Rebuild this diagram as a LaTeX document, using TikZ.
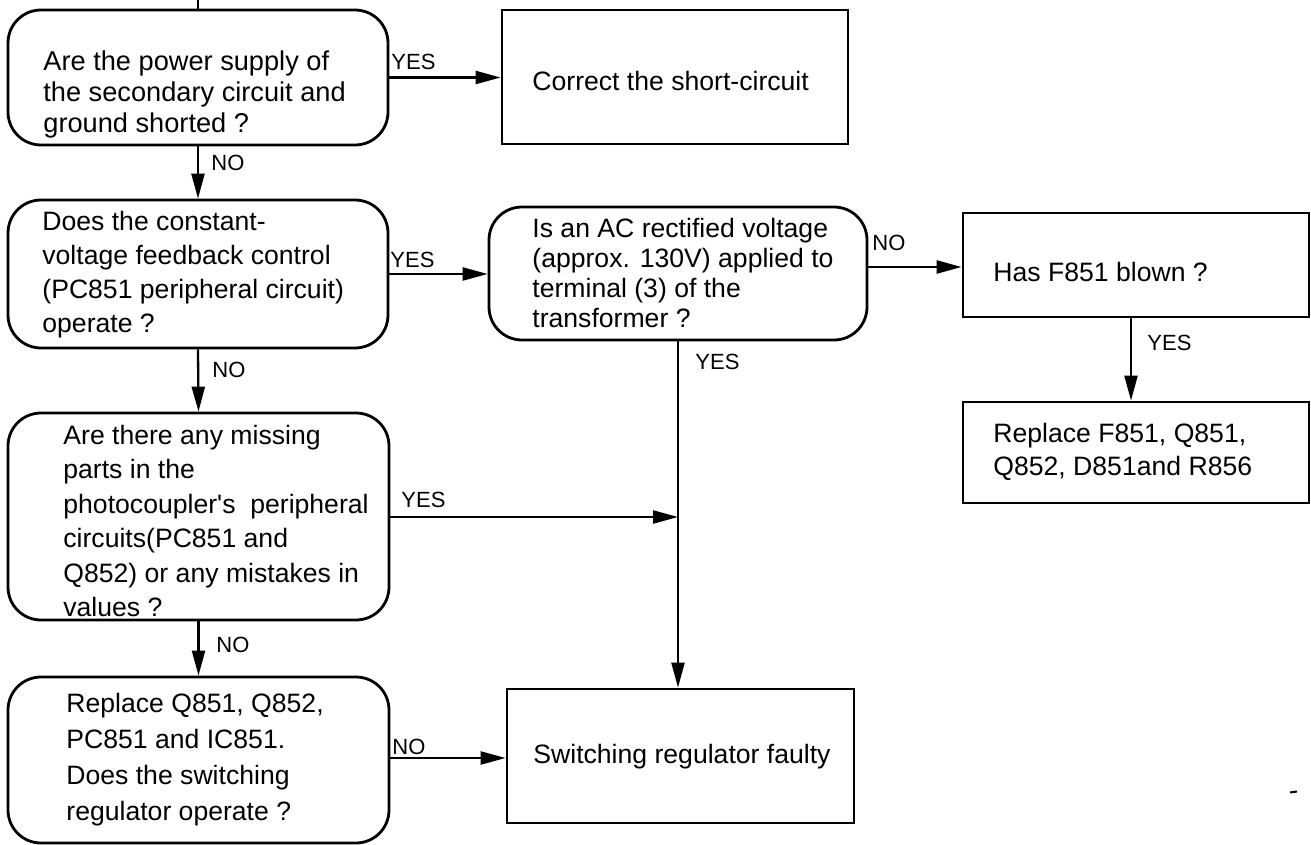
\documentclass[tikz,border=0pt]{standalone}
\usepackage{fontspec}
\setmainfont{Liberation Sans}
\usetikzlibrary{arrows.meta}
\begin{document}
\begin{tikzpicture}[x=0.5pt,y=-0.5pt,
  rbox/.style={draw, line width=1.4pt, rounded corners=16.5pt, inner sep=0pt},
  sbox/.style={draw, line width=1.4pt, inner sep=0pt},
  ln/.style={line width=1.15pt},
  arr/.style={line width=1.15pt, -{Triangle[length=12.5pt,width=6.5pt]}},
  lbl/.style={anchor=west, inner sep=0pt, font=\fontsize{11}{12}\selectfont},
  txt/.style={anchor=west, align=left, inner sep=0pt}]
\useasboundingbox (0,0) rectangle (1311,845);

% boxes
\node[rbox, minimum width=190pt, minimum height=67.5pt] (A) at (198,77.5) {};
\node[sbox, minimum width=173pt, minimum height=67pt] (B) at (675,77) {};
\node[rbox, minimum width=190pt, minimum height=74pt] (C) at (198,274) {};
\node[rbox, minimum width=189pt, minimum height=66.5pt] (D) at (678,273.5) {};
\node[sbox, minimum width=173pt, minimum height=52pt] (E) at (1136,265) {};
\node[sbox, minimum width=173pt, minimum height=50.5pt] (F) at (1136,452.5) {};
\node[rbox, minimum width=190.5pt, minimum height=103.5pt] (G) at (198.5,516.5) {};
\node[rbox, minimum width=190.5pt, minimum height=83pt] (H) at (198.5,760) {};
\node[sbox, minimum width=173.5pt, minimum height=67pt] (S) at (680.5,756) {};

% texts
\node[txt, font=\fontsize{13.6}{15.5}\selectfont] (tA) at (43,94) {Are the power supply of\\the secondary circuit and\\ground shorted ?};
\node[txt, font=\fontsize{13.3}{15.5}\selectfont] (tB) at (532,81) {Correct the short-circuit};
\node[txt, font=\fontsize{13.3}{17}\selectfont] (tC) at (42,275) {Does the constant-\\voltage feedback control\\(PC851 peripheral circuit)\\operate ?};
\node[txt, font=\fontsize{13.3}{15}\selectfont] (tD) at (532,273) {Is an AC rectified voltage\\(approx. 130V) applied to\\terminal (3) of the\\transformer ?};
\node[txt, font=\fontsize{13.3}{15}\selectfont] (tE) at (993,272) {Has F851 blown ?};
\node[txt, font=\fontsize{13.3}{16.5}\selectfont] (tF) at (993,452) {Replace F851, Q851,\\Q852, D851and R856};
\node[txt, font=\fontsize{13.3}{17.2}\selectfont] (tG) at (63,521) {Are there any missing\\parts in the\\photocoupler\textquotesingle s\ \ peripheral\\circuits(PC851 and\\Q852) or any mistakes in\\values ?};
\node[txt, font=\fontsize{13.3}{18}\selectfont] (tH) at (66,760) {Replace Q851, Q852,\\PC851 and IC851.\\Does the switching\\regulator operate ?};
\node[txt, font=\fontsize{13.3}{15}\selectfont] (tS) at (533,757) {Switching regulator faulty};

% connectors
\coordinate (top) at (198,0);
\draw[ln] (top) -- (A.north);
\draw[arr] (A.east) -- (A.east -| B.west);
\draw[arr] (A.south) -- (C.north);
\draw[arr] (C.east) -- (C.east -| D.west);
\draw[arr] (D.east |- 0,267) -- (E.west |- 0,267);
\draw[arr] (E.south -| 1131,0) -- (F.north -| 1131,0);
\coordinate (J) at (678,517);
\draw[arr] (D.south) -- (D.south |- S.north);
\draw[arr] (G.east |- J) -- (J);
\draw[arr] (C.south) -- (G.north);
\draw[arr] (G.south) -- (H.north);
\draw[arr] (H.east |- 0,758) -- (S.west |- 0,758);

% labels
\node[lbl] (l1) at (391,62) {YES};
\node[lbl] (l2) at (211,163) {NO};
\node[lbl] (l3) at (390,260) {YES};
\node[lbl] (l4) at (872,243) {NO};
\node[lbl] (l5) at (1147,343) {YES};
\node[lbl] (l6) at (695,362) {YES};
\node[lbl] (l7) at (212,370) {NO};
\node[lbl] (l8) at (401,500) {YES};
\node[lbl] (l9) at (216,645) {NO};
\node[lbl] (l10) at (392,747) {NO};

% small mark
\draw[line width=1pt] (1290,792.5) -- (1297,791.5);
\end{tikzpicture}
\end{document}
